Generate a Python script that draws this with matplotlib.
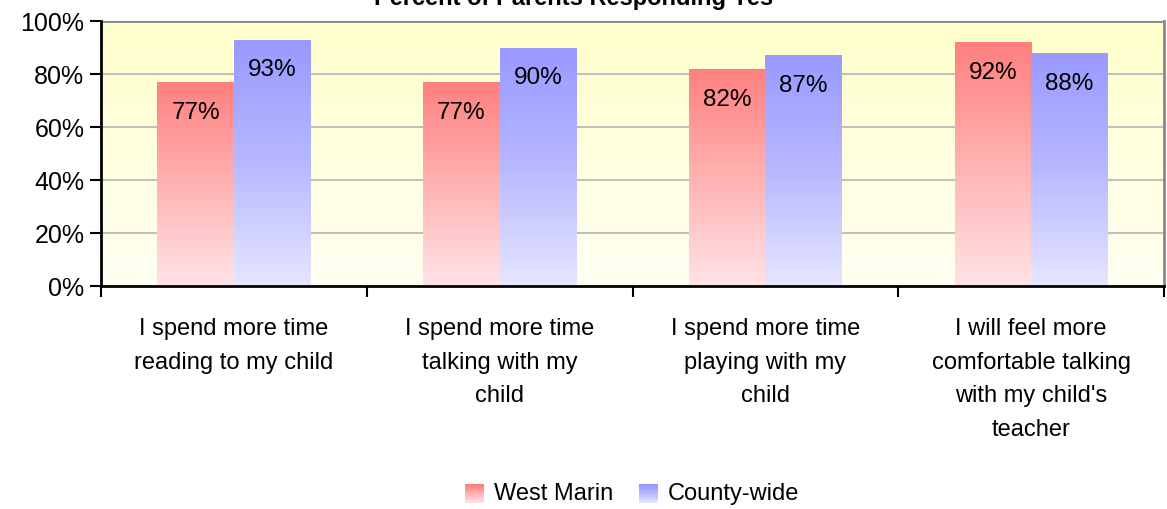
import numpy as np
import matplotlib
matplotlib.use("Agg")
import matplotlib.pyplot as plt
from matplotlib.colors import LinearSegmentedColormap
from matplotlib.patches import Rectangle
from matplotlib.legend_handler import HandlerBase

categories = ["I spend more time\nreading to my child",
              "I spend more time\ntalking with my\nchild",
              "I spend more time\nplaying with my\nchild",
              "I will feel more\ncomfortable talking\nwith my child's\nteacher"]
west_marin = [77, 77, 82, 92]
county_wide = [93, 90, 87, 88]
series_names = ["West Marin", "County-wide"]
title = "Percent of Parents Responding Yes"

plt.rcParams['font.family'] = ['Liberation Sans', 'DejaVu Sans']

W, H = 1167, 510
fig = plt.figure(figsize=(W/100, H/100), dpi=100)
ax = fig.add_axes([101/W, 1-287/H, (1164-101)/W, (287-22)/H])

x = np.arange(len(categories))
bw = 0.288
ax.set_xlim(-0.5, len(categories)-0.5)
ax.set_ylim(0, 100)

# background gradient
bg = LinearSegmentedColormap.from_list("bg", ["#fffff2", "#ffffcc"])
ax.imshow(np.linspace(0, 1, 256).reshape(-1, 1), cmap=bg, aspect='auto',
          extent=(-0.5, len(categories)-0.5, 0, 100), origin='lower', zorder=0)

red_cm = LinearSegmentedColormap.from_list("r", ["#ffe3e6", "#ffb2b2", "#ff7f7f"])
blue_cm = LinearSegmentedColormap.from_list("b", ["#e6e6ff", "#b8b8ff", "#9999ff"])

for yv in [20, 40, 60, 80]:
    ax.axhline(yv, color="#c0c0c0", lw=1.5, zorder=1)
ax.axhline(100, color="#888888", lw=2, zorder=1)

def grad_bars(xs, vals, cm, label):
    bars = ax.bar(xs, vals, bw, color='none', edgecolor='none', zorder=2, label=label)
    for b in bars:
        x0, y0 = b.get_x(), b.get_y()
        im = ax.imshow(np.linspace(0, 1, 256).reshape(-1, 1), cmap=cm, aspect='auto',
                       extent=(x0, x0 + b.get_width(), y0, y0 + b.get_height()),
                       origin='lower', zorder=2)
        im.set_clip_path(b)
    return bars

b1 = grad_bars(x - bw/2, west_marin, red_cm, series_names[0])
b2 = grad_bars(x + bw/2, county_wide, blue_cm, series_names[1])

for xs, vals in [(x - bw/2, west_marin), (x + bw/2, county_wide)]:
    for xi, v in zip(xs, vals):
        ax.text(xi, v - 11.3, f"{v}%", ha='center', va='center', fontsize=17.5, zorder=3)

ax.set_yticks([0, 20, 40, 60, 80, 100])
ax.set_yticklabels([f"{v}%" for v in [0, 20, 40, 60, 80, 100]], fontsize=18)
ax.tick_params(axis='y', direction='out', length=8, width=1.5, pad=4)
ax.set_xticks(np.arange(len(categories)+1) - 0.5)
ax.set_xticklabels([])
ax.tick_params(axis='x', direction='out', length=8, width=1.5)
for xi, c in zip(x, categories):
    ax.text(xi, -11.8, c, ha='center', va='top', fontsize=17, linespacing=1.68,
            transform=ax.transData)

for s in ['left', 'bottom']:
    ax.spines[s].set_color('black')
    ax.spines[s].set_linewidth(2)
ax.spines['top'].set_visible(False)
ax.spines['right'].set_color('#888888')
ax.spines['right'].set_linewidth(2)

fig.text(574/W, 1-5/H, title, ha='center', va='baseline', fontsize=17, fontweight='bold')


class GradHandler(HandlerBase):
    def __init__(self, cm):
        super().__init__()
        self.cm = cm

    def create_artists(self, legend, orig_handle, xdescent, ydescent, width, height,
                       fontsize, trans):
        n = 12
        arts = []
        size = min(width, height * 1.0)
        y0 = -ydescent + (height - size) / 2 - 2
        for i in range(n):
            r = Rectangle((-xdescent, y0 + size * i / n), size, size / n + 0.3,
                          facecolor=self.cm(i / (n - 1)), edgecolor='none',
                          transform=trans)
            arts.append(r)
        return arts


h1 = Rectangle((0, 0), 1, 1)
h2 = Rectangle((0, 0), 1, 1)
leg = fig.legend([h1, h2], series_names,
                 loc='center', bbox_to_anchor=(632/W, 1-494/H), ncol=2, frameon=False,
                 fontsize=17, handlelength=0.85, handleheight=0.85, handletextpad=0.35,
                 columnspacing=1.1,
                 handler_map={h1: GradHandler(red_cm), h2: GradHandler(blue_cm)})

fig.savefig("out.png", dpi=100)
